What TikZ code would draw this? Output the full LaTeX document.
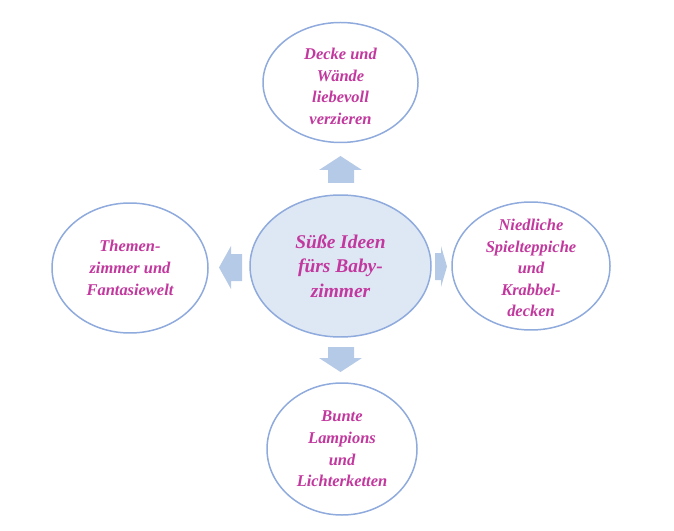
\documentclass[tikz,border=0pt]{standalone}
\usepackage{fontspec}
\setmainfont{Liberation Serif}
\usetikzlibrary{shapes.geometric}
\definecolor{txt}{HTML}{C2389E}
\definecolor{rim}{HTML}{8FAADC}
\definecolor{core}{HTML}{DEE8F5}
\definecolor{arr}{HTML}{B5CAE7}
\tikzset{
  bubbletext/.style={text=txt, align=center, inner sep=0pt,
    font=\fontsize{16.5}{21.7}\selectfont\bfseries\itshape},
  bubble/.style={bubbletext, ellipse, draw=rim, line width=1.5pt, fill=white},
  corebubble/.style={bubble, fill=core, font=\fontsize{19.5}{24.5}\selectfont\bfseries\itshape},
  blockarrow/.style={fill=arr, draw=none}
}
\begin{document}
\begin{tikzpicture}[x=1bp,y=-1bp]
\useasboundingbox (0,0) rectangle (674,531);
\node[corebubble, minimum width=181bp, minimum height=142bp] (c) at (340.5,266) {Süße Ideen\\fürs Baby-\\zimmer};
\node[bubble, minimum width=155bp, minimum height=120bp] (t) at (340.5,82.5) {};
\node[bubbletext] (tt) at ([yshift=-4bp]t.center) {Decke und\\Wände\\liebevoll\\verzieren};
\node[bubble, minimum width=156bp, minimum height=130bp] (l) at (130,268) {Themen-\\zimmer und\\Fantasiewelt};
\node[bubble, minimum width=158bp, minimum height=128bp] (r) at (531,266) {};
\node[bubbletext] (rt) at ([yshift=-2bp]r.center) {Niedliche\\Spielteppiche\\und\\Krabbel-\\decken};
\node[bubble, minimum width=150bp, minimum height=132bp] (b) at (342,449) {Bunte\\Lampions\\und\\Lichterketten};
% block arrows
\fill[blockarrow] (328,183) -- (328,170) -- (319,170) -- (340.5,156) -- (362,170) -- (354,170) -- (354,183) -- cycle;
\fill[blockarrow] (328,347) -- (328,358) -- (319,358) -- (340.5,372) -- (362,358) -- (354,358) -- (354,347) -- cycle;
\fill[blockarrow] (242,254) -- (231,254) -- (231,246) -- (219,267.5) -- (231,289) -- (231,281) -- (242,281) -- cycle;
\fill[blockarrow] (435,253) -- (441,253) -- (441,246) -- (447,266.5) -- (441,287) -- (441,280) -- (435,280) -- cycle;
\end{tikzpicture}
\end{document}
